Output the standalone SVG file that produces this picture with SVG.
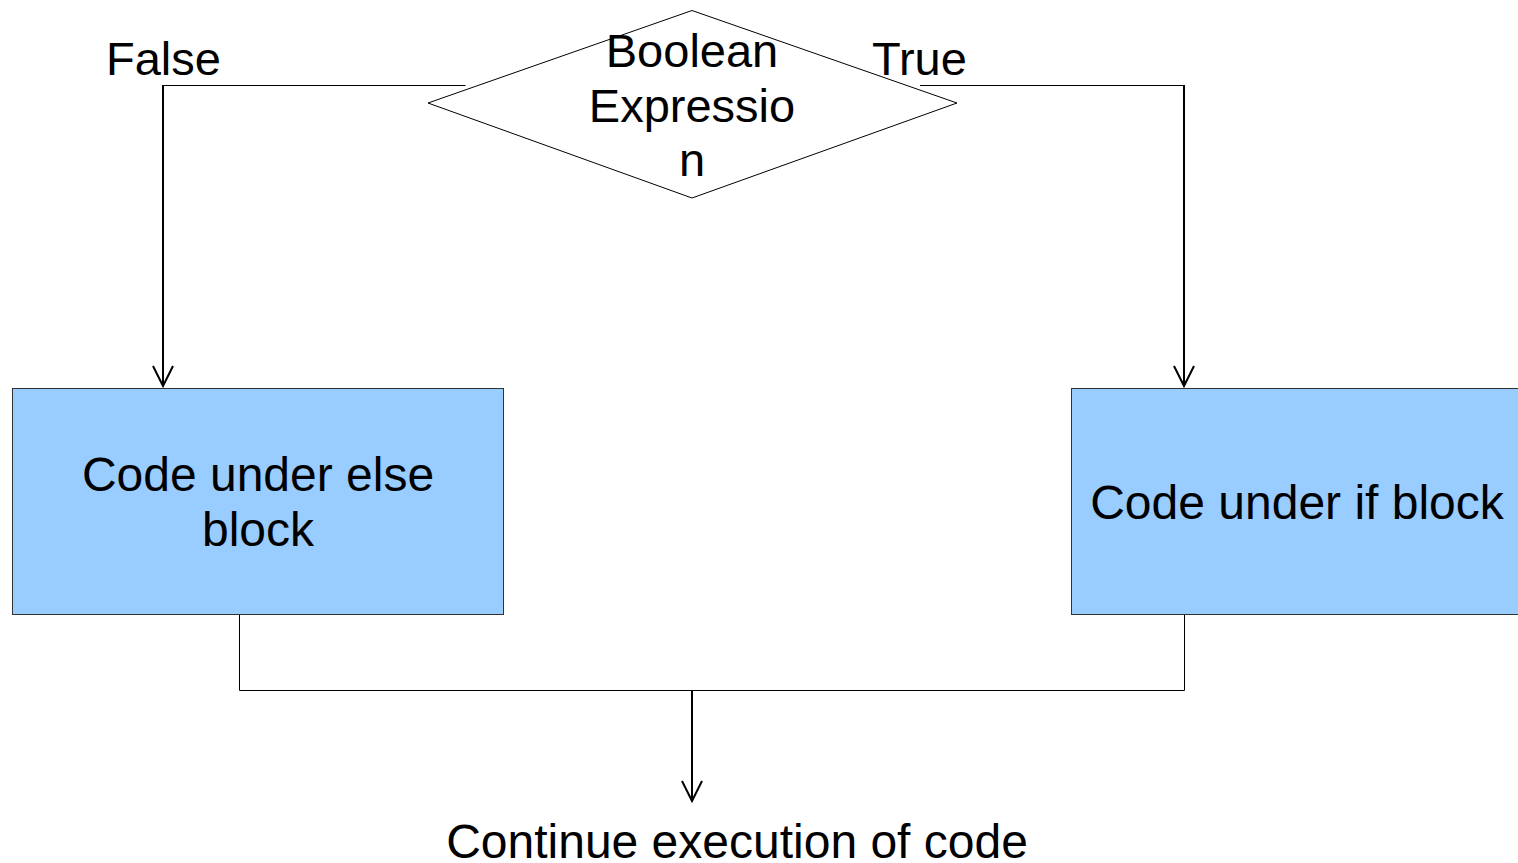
<svg xmlns="http://www.w3.org/2000/svg" width="1518" height="863" viewBox="0 0 1518 863">
  <style>
    text { font-family: "Liberation Sans", Arial, sans-serif; font-size: 47px; fill: #000; }
    .mid { text-anchor: middle; }
    .thin { fill: none; stroke: #000; stroke-width: 1; }
    .flow { fill: none; stroke: #000; stroke-width: 2; }
    .head { fill: none; stroke: #000; stroke-width: 2; }
    .box { fill: #99ccff; stroke: #333; stroke-width: 1; }
  </style>
  <rect width="1518" height="863" fill="#fff"/>

  <g id="connectors">
    <!-- false branch -->
    <polyline class="thin" points="465.5,85.5 163.5,85.5"/>
    <line class="flow" x1="163" y1="85" x2="163" y2="386"/>
    <polyline class="head" points="153,366 163,386 173,366"/>
    <!-- true branch -->
    <polyline class="thin" points="920,85.5 1184.5,85.5"/>
    <line class="flow" x1="1184" y1="85" x2="1184" y2="386"/>
    <polyline class="head" points="1174,366 1184,386 1194,366"/>
    <!-- merge -->
    <polyline class="thin" points="239.5,614 239.5,690.5 1184.5,690.5 1184.5,614"/>
    <line class="flow" x1="692" y1="690" x2="692" y2="801"/>
    <polyline class="head" points="682,781 692,801 702,781"/>
  </g>

  <g id="decision">
    <polygon class="thin" fill="#fff" points="692,10.5 957,103 692,198 428,103"/>
    <text class="mid" x="692" y="67">Boolean</text>
    <text class="mid" x="692" y="122">Expressio</text>
    <text class="mid" x="692" y="176">n</text>
  </g>

  <g id="label-false">
    <text x="106" y="75">False</text>
  </g>
  <g id="label-true">
    <text x="872" y="75">True</text>
  </g>

  <g id="else-block">
    <rect class="box" x="12.5" y="388.5" width="491" height="226"/>
    <text class="mid" x="258" y="491" style="font-size:48px">Code under else</text>
    <text class="mid" x="258" y="546" style="font-size:48px">block</text>
  </g>

  <g id="if-block">
    <rect class="box" x="1071.5" y="388.5" width="460" height="226"/>
    <text class="mid" x="1297" y="519" style="font-size:48px">Code under if block</text>
  </g>

  <g id="continue">
    <text class="mid" x="737" y="858" style="font-size:48px">Continue execution of code</text>
  </g>
</svg>
